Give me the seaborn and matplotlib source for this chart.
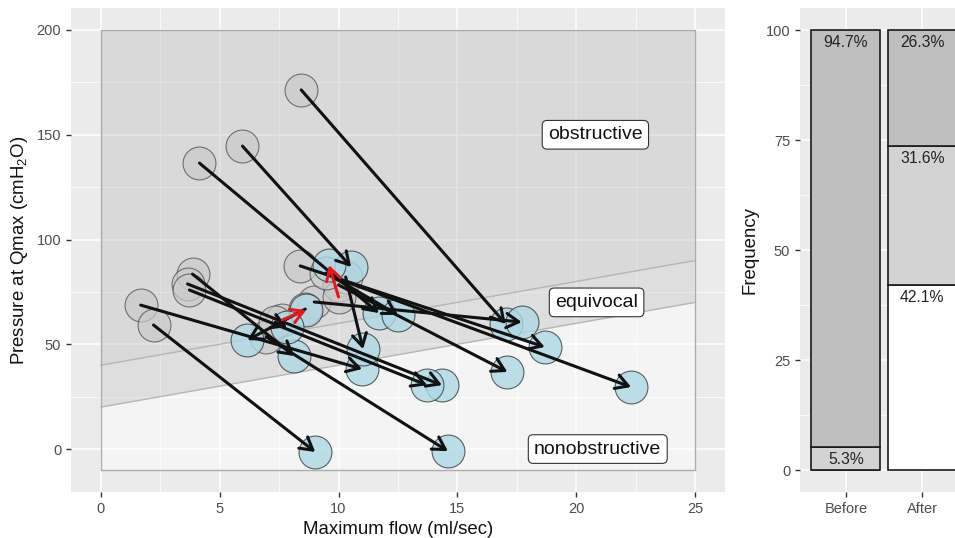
import numpy as np
import pandas as pd
import matplotlib
matplotlib.use("Agg")
import matplotlib.pyplot as plt
import seaborn as sns
from matplotlib.patches import Polygon
from matplotlib.ticker import MultipleLocator, FixedLocator

# ---------------- data ----------------
before_flow = [8.43, 5.96, 4.15, 8.39, 1.68, 2.22, 3.86, 3.65, 3.73, 8.98, 10.1, 10.0, 10.3, 10.0, 7.63, 8.6, 6.96, 9.48, 7.34]
before_pres = [171.4, 144.6, 136.5, 87.4, 68.7, 59.2, 83.5, 78.8, 75.9, 70.2, 80.7, 78.3, 82.1, 72.6, 61.6, 66.8, 53.5, 84.0, 60.6]
after_flow = [17.03, 10.53, 11.7, 18.67, 10.99, 9.02, 8.14, 14.35, 13.72, 17.7, 22.3, 17.1, 11.03, 9.6, 8.64, 6.17, 14.6, 12.5, 7.84]
after_pres = [59.7, 86.9, 64.9, 48.7, 38.2, -1.4, 44.4, 30.5, 30.5, 60.6, 29.6, 36.8, 47.7, 87.8, 66.3, 52.0, -1.0, 64.0, 58.2]

zone_labels = ["obstructive", "equivocal", "nonobstructive"]
zone_label_x = [20.8, 20.85, 20.9]
zone_label_y = [150, 70, 0]

bar_groups = ["Before", "After"]
pct_nonobstructive = [0.0, 42.1]
pct_equivocal = [5.3, 31.6]
pct_obstructive = [94.7, 26.3]

# ---------------- style ----------------
sns.set_theme(style="darkgrid")
plt.rcParams["font.family"] = ["Liberation Sans", "DejaVu Sans"]
plt.rcParams["mathtext.fontset"] = "custom"
plt.rcParams["mathtext.rm"] = "Liberation Sans"
plt.rcParams["mathtext.it"] = "Liberation Sans"

BG = "#EBEBEB"
W, H = 955, 538
fig = plt.figure(figsize=(W / 100, H / 100), dpi=100)
fig.patch.set_facecolor("white")

def style_axes(ax):
    ax.set_facecolor(BG)
    for s in ax.spines.values():
        s.set_visible(False)
    ax.grid(True, which="major", color="white", linewidth=1.1)
    ax.grid(True, which="minor", color="white", linewidth=0.55)
    ax.tick_params(which="major", length=3.5, width=1.0, color="#333333",
                   labelcolor="#4D4D4D", labelsize=10.5, pad=3.5,
                   bottom=True, left=True)
    ax.tick_params(which="minor", length=0, bottom=False, left=False)
    ax.set_axisbelow(True)

# ---------------- left panel ----------------
ax = fig.add_axes([71 / W, 46 / H, 654 / W, 484 / H])
style_axes(ax)
ax.set_xlim(-1.25, 26.25)
ax.set_ylim(-20.5, 210.5)
ax.xaxis.set_major_locator(MultipleLocator(5))
ax.xaxis.set_minor_locator(MultipleLocator(2.5))
ax.yaxis.set_major_locator(FixedLocator([0, 50, 100, 150, 200]))
ax.yaxis.set_minor_locator(FixedLocator([25, 75, 125, 175]))

xmax = 25
poly_non = [(0, -10), (xmax, -10), (xmax, 20 + 2 * xmax), (0, 20)]
poly_eq = [(0, 20), (xmax, 20 + 2 * xmax), (xmax, 40 + 2 * xmax), (0, 40)]
poly_ob = [(0, 40), (xmax, 40 + 2 * xmax), (xmax, 200), (0, 200)]
ax.add_patch(Polygon(poly_non, closed=True, facecolor="white", alpha=0.45, edgecolor="none", zorder=1))
ax.add_patch(Polygon(poly_eq, closed=True, facecolor="#C4C4C4", alpha=0.33, edgecolor="none", zorder=1))
ax.add_patch(Polygon(poly_ob, closed=True, facecolor="#BDBDBD", alpha=0.38, edgecolor="none", zorder=1))
ax.plot([0, xmax], [20, 20 + 2 * xmax], color="#B5B5B5", lw=1.0, zorder=1.5)
ax.plot([0, xmax], [40, 40 + 2 * xmax], color="#B5B5B5", lw=1.0, zorder=1.5)
ax.plot([0, xmax, xmax, 0, 0], [-10, -10, 200, 200, -10], color="#ABABAB", lw=1.0, zorder=1.5)

df = pd.DataFrame({"bf": before_flow, "bp": before_pres, "af": after_flow, "ap": after_pres})

sns.scatterplot(data=df, x="bf", y="bp", ax=ax, s=560, color="#CACACA", alpha=0.7,
                edgecolor="#444444", linewidth=0.8, zorder=3, legend=False)
sns.scatterplot(data=df, x="af", y="ap", ax=ax, s=560, color="#ADD8E6", alpha=0.8,
                edgecolor="#3A3A3A", linewidth=0.8, zorder=4, legend=False)

for bf, bp, af, ap in zip(before_flow, before_pres, after_flow, after_pres):
    col = "#E8161B" if ap > bp else "#111111"
    ax.annotate("", xy=(af, ap), xytext=(bf, bp),
                arrowprops=dict(arrowstyle="->,head_length=0.55,head_width=0.32",
                                color=col, lw=2.2, shrinkA=0, shrinkB=0,
                                mutation_scale=16),
                zorder=6 if col != "#111111" else 5)

for lab, lx, ly in zip(zone_labels, zone_label_x, zone_label_y):
    ax.text(lx, ly, lab, ha="center", va="center", fontsize=14, color="#111111", zorder=7,
            bbox=dict(boxstyle="round,pad=0.3,rounding_size=0.25", fc="white", ec="#333333", lw=0.8))

ax.set_xlabel("Maximum flow (ml/sec)", fontsize=13.4, color="#111111", labelpad=4)
ax.set_ylabel(r"Pressure at Qmax (cmH$_\mathregular{2}$O)", fontsize=13.4, color="#111111", labelpad=5)

# ---------------- right panel ----------------
ax2 = fig.add_axes([800 / W, 46 / H, 168 / W, 484 / H])
style_axes(ax2)
ax2.set_xlim(0.4, 2.6)
ax2.set_ylim(-5, 105)
ax2.yaxis.set_major_locator(FixedLocator([0, 25, 50, 75, 100]))
ax2.yaxis.set_minor_locator(FixedLocator([12.5, 37.5, 62.5, 87.5]))
pos = np.arange(1, len(bar_groups) + 1)
ax2.xaxis.set_major_locator(FixedLocator(pos))
ax2.set_xticklabels(bar_groups)

bottom = np.zeros(len(bar_groups))
for vals, fc in [(pct_nonobstructive, "white"), (pct_equivocal, "#D3D3D3"), (pct_obstructive, "#BFBFBF")]:
    vals = np.array(vals)
    ax2.bar(pos, vals, bottom=bottom, width=0.9, color=fc, edgecolor="#1A1A1A", linewidth=1.2, zorder=3)
    for p, v, b in zip(pos, vals, bottom):
        if v > 0:
            ax2.text(p, b + v - 2.9, f"{v:.1f}%", ha="center", va="center",
                     fontsize=11.3, color="#222222", zorder=4)
    bottom = bottom + vals

ax2.set_ylabel("Frequency", fontsize=13.4, color="#111111", labelpad=5)
ax2.set_xlabel("")

fig.savefig("out.png", dpi=100, facecolor="white")
